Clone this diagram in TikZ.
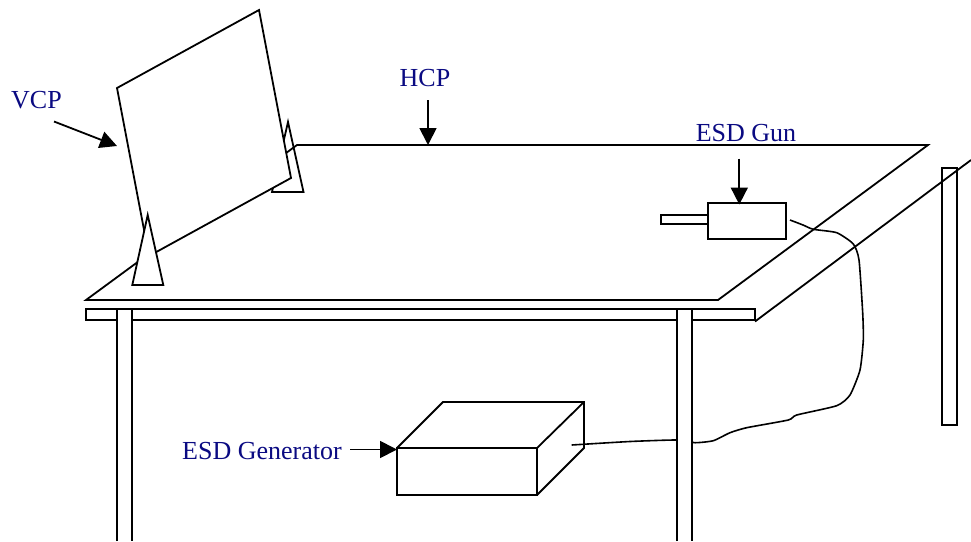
\documentclass[tikz,border=0pt]{standalone}
\usepackage{fontspec}
\setmainfont{Liberation Serif}
\usepackage{xcolor}
\usetikzlibrary{arrows.meta}
\definecolor{labelblue}{RGB}{10,10,130}

\begin{document}
\begin{tikzpicture}[x=1pt, y=-1pt, line width=1.8pt, line join=miter,
    tag/.style={text=labelblue, font=\fontsize{26}{30}\selectfont, anchor=base, inner sep=0pt},
    pointer/.style={-{Triangle[length=17pt,width=17pt]}},
    solid white/.style={draw, fill=white}]
    \useasboundingbox (0,0) rectangle (971,541);

    % Wire, passes behind the near leg
    \draw[line width=1.6pt] plot[smooth, tension=0.35] coordinates {(790,220) (803,225) (813.3,229.3) (836.7,232.7)
        (853.3,244) (859,260) (862.7,313) (863.3,340) (860,370) (850,395) (836.7,405.7) (796.7,415)
        (788.3,420) (746.7,427.7) (730,432.7) (713.3,440.7) (695,442.7) (676.7,440) (630,441.5) (571.7,445)};

    % Table
    \draw (86,300) -- (297,145) -- (928,145) -- (718,300) -- cycle;
    \draw (86,309) rectangle (755,320);

    % Legs
    \draw[solid white] (117,541) -- (117,309) -- (132,309) -- (132,541);
    \draw[solid white] (677,541) -- (677,309) -- (692,309) -- (692,541);
    \draw[solid white] (942,168) rectangle (957,425);
    \draw (755,321.5) -- (971,160);

    % Vertical plane on its two supports
    \draw (272,192) -- (288,122) -- (303.5,192) -- cycle;
    \draw[solid white] (117,88) -- (259,10) -- (291,178) -- (149,256) -- cycle;
    \draw[solid white] (132.3,285) -- (147.7,215) -- (163.3,285) -- cycle;

    % Gun
    \draw[solid white] (661,215) rectangle (708,224);
    \draw[solid white] (708,203) rectangle (786,239);

    % Generator box
    \draw (397,448) -- (443,402) -- (584,402) -- (584,448) -- (537,495);
    \draw (537,448) -- (584,402);
    \draw[fill=none] (397,448) rectangle (537,495);

    % Labels
    \node[tag] (vcp) at (36.5,108) {VCP};
    \node[tag] (hcp) at (425,86) {HCP};
    \node[tag] (gun) at (746,141) {ESD Gun};
    \node[tag] (generator) at (262,459) {ESD Generator};

    % Arrows
    \coordinate (vcp start) at (54,121.5);
    \coordinate (vcp end) at (117,146);
    \coordinate (hcp start) at (428,100);
    \coordinate (hcp end) at (428,145);
    \coordinate (gun start) at (739.3,158.5);
    \coordinate (gun end) at (739.3,204.5);
    \coordinate (generator start) at (350,449.5);
    \coordinate (generator end) at (397,449.5);
    \draw[pointer] (vcp start) -- (vcp end);
    \draw[pointer] (hcp start) -- (hcp end);
    \draw[pointer] (gun start) -- (gun end);
    \draw[pointer] (generator start) -- (generator end);
\end{tikzpicture}
\end{document}
